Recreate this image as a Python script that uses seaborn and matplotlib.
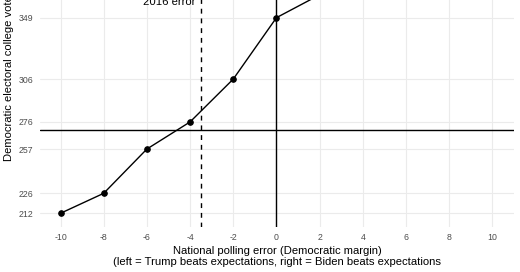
import matplotlib
matplotlib.use("Agg")
import matplotlib.pyplot as plt
import seaborn as sns
import pandas as pd

# data
polling_error = [-10, -8, -6, -4, -2, 0, 2]
dem_ev = [212, 226, 257, 276, 306, 349, 365]
ytick_vals = [212, 226, 257, 276, 306, 349]
xtick_vals = [-10, -8, -6, -4, -2, 0, 2, 4, 6, 8, 10]
error_2016 = -3.5
win_threshold = 270

df = pd.DataFrame({"err": polling_error, "ev": dem_ev})

sns.set_style("whitegrid")
plt.rcParams["font.family"] = ["Liberation Sans", "DejaVu Sans"]

W, H = 520, 272
fig = plt.figure(figsize=(W / 100, H / 100), dpi=100)
# axes extends above the figure (reference is cropped at the top)
left, right, bottom_px, top_px = 40, 514, 227, -77
ax = fig.add_axes([left / W, (H - bottom_px) / H, (right - left) / W, (bottom_px - top_px) / H])

ax.grid(True, color="#EBEBEB", lw=0.8)
ax.set_axisbelow(True)
for s in ax.spines.values():
    s.set_visible(False)

ax.axhline(win_threshold, color="black", lw=1.0, zorder=2)
ax.axvline(0, color="black", lw=1.0, zorder=2)
ax.axvline(error_2016, color="black", lw=1.0, ls=(0, (3.5, 3.5)), zorder=2)
ax.text(error_2016 - 0.27, 357.6, "2016 error", ha="right", va="baseline",
        fontsize=8.1, color="black", clip_on=False)

sns.lineplot(data=df, x="err", y="ev", ax=ax, color="black", lw=1.0,
             marker="o", markersize=4, markeredgecolor="black", zorder=3)

ax.set_xlim(-10.95, 11.0)
ax.set_ylim(202.4, 415.3)
ax.set_xticks(xtick_vals)
ax.set_xticklabels([str(v) for v in xtick_vals])
ax.set_yticks(ytick_vals)
ax.set_yticklabels([str(v) for v in ytick_vals])
ax.tick_params(axis="both", length=0, labelsize=6.3, labelcolor="#4D4D4D")
ax.tick_params(axis="x", pad=4)
ax.tick_params(axis="y", pad=5)

ax.set_xlabel("National polling error (Democratic margin)\n(left = Trump beats expectations, right = Biden beats expectations",
              fontsize=8.1, color="black", labelpad=3, linespacing=1.1)
ax.set_ylabel("Democratic electoral college votes", fontsize=8.1, color="black", labelpad=3)

fig.savefig("out.png", dpi=100)
